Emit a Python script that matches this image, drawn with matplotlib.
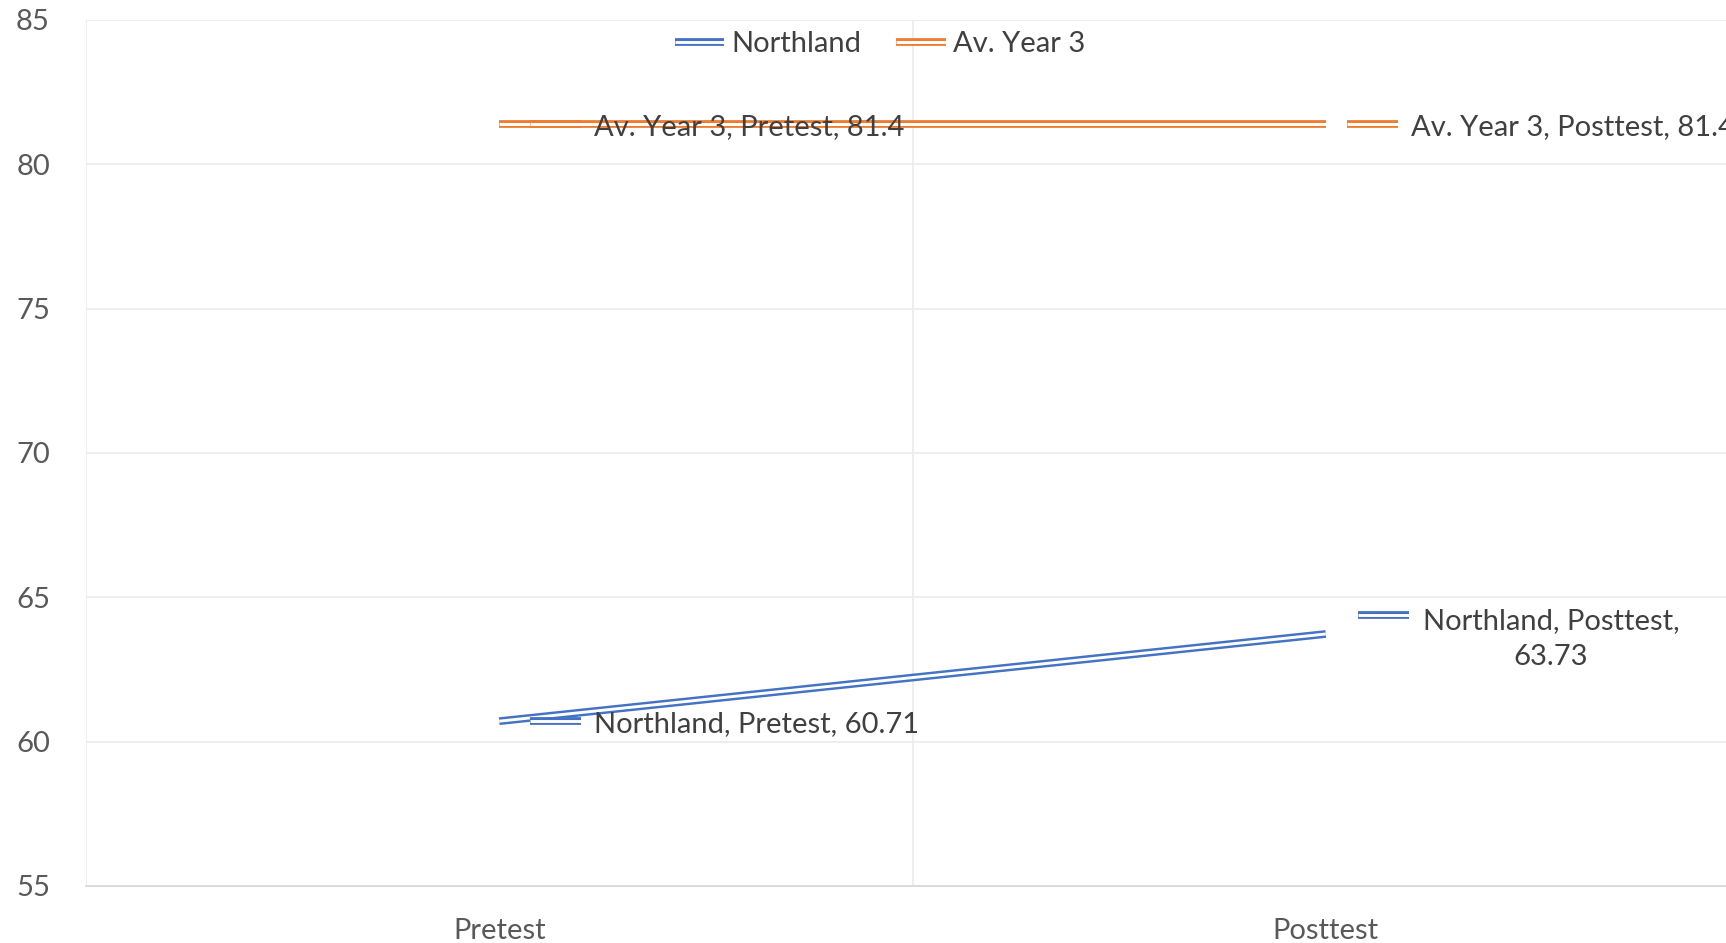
import matplotlib.pyplot as plt
from matplotlib.lines import Line2D
from matplotlib.transforms import IdentityTransform

# ============================================================
# Data
# ============================================================
categories = ["Pretest", "Posttest"]
northland = [60.71, 63.73]
av_year3 = [81.4, 81.4]
series_names = ["Northland", "Av. Year 3"]
y_ticks = [55, 60, 65, 70, 75, 80, 85]

BLUE = "#4472C4"
ORANGE = "#ED7D31"
TEXT = "#404040"
TICK = "#595959"
GRID = "#EDEDED"

plt.rcParams['font.family'] = ['Lato', 'DejaVu Sans']
FS = 21

fig = plt.figure(figsize=(17.26, 9.43), dpi=100)
fig.patch.set_facecolor("white")
ax = fig.add_axes([86 / 1726, 57 / 943, 1653 / 1726, 866 / 943])

OUTER, INNER = 5.6, 2.1


def double_line(x, y, color, display=False):
    """Excel-style compound (double) line: thick colour stroke with a white core."""
    kw = dict(solid_capstyle='butt')
    if display:
        for lw, c in ((OUTER, color), (INNER, "white")):
            fig.add_artist(Line2D(x, y, color=c, lw=lw, transform=IdentityTransform(), **kw))
    else:
        ax.plot(x, y, color=color, lw=OUTER, zorder=3, **kw)
        ax.plot(x, y, color="white", lw=INNER, zorder=3, **kw)


xs = list(range(len(categories)))
series = [(northland, BLUE), (av_year3, ORANGE)]
for vals, col in series:
    double_line(xs, vals, col)

ax.set_xlim(-0.5, len(categories) - 0.5)
ax.set_ylim(y_ticks[0], y_ticks[-1])
ax.set_yticks(y_ticks)
ax.set_xticks(xs)
ax.set_xticklabels(categories)
ax.set_xticks([-0.5, 0.5, 1.5], minor=True)
ax.grid(True, axis='y', color=GRID, lw=1.3)
ax.grid(True, axis='x', which='minor', color=GRID, lw=1.3)
ax.tick_params(axis='both', which='both', length=0)
ax.tick_params(axis='y', labelsize=FS, labelcolor=TICK, pad=26)
ax.tick_params(axis='x', labelsize=FS, labelcolor=TICK, pad=23)
for s in ['top', 'right', 'left']:
    ax.spines[s].set_visible(False)
ax.spines['bottom'].set_color("#D9D9D9")
ax.spines['bottom'].set_linewidth(1.3)

# Legend
handles = [(Line2D([], [], color=c, lw=OUTER, solid_capstyle='butt'),
            Line2D([], [], color="white", lw=INNER, solid_capstyle='butt'))
           for _, c in series]
ax.legend(handles, series_names, loc='center', bbox_to_anchor=(880 / 1726, 1 - 44 / 943),
          bbox_transform=fig.transFigure, ncol=2, frameon=False, fontsize=FS,
          labelcolor=TEXT, handlelength=1.7, handletextpad=0.25, columnspacing=1.2)

# Data labels with legend keys (offsets in pixels)
fig.canvas.draw()
W, H = fig.bbox.width, fig.bbox.height
label_specs = [
    # series, index, key start, key end, text dx, key dy, text dy, format
    (0, 0, 31, 82, 95, 0, -3, "{name}, {cat}, {v}"),
    (0, 1, 32, 83, 97, 19, -5, "{name}, {cat},\n{v}"),
    (1, 0, 31, 82, 95, 0, -3, "{name}, {cat}, {v}"),
    (1, 1, 21, 72, 85, 0, -3, "{name}, {cat}, {v}"),
]
for si, ci, k0, k1, tdx, kdy, tdy, fmt in label_specs:
    vals, col = series[si]
    px, py = ax.transData.transform((ci, vals[ci]))
    double_line([px + k0, px + k1], [py + kdy, py + kdy], col, display=True)
    txt = fmt.format(name=series_names[si], cat=categories[ci], v=f"{vals[ci]:g}")
    fig.text((px + tdx) / W, (py + tdy) / H, txt, fontsize=FS, color=TEXT,
             ha='left', va='center', multialignment='center', linespacing=1.45)

fig.savefig("out.png", dpi=100, facecolor="white")
